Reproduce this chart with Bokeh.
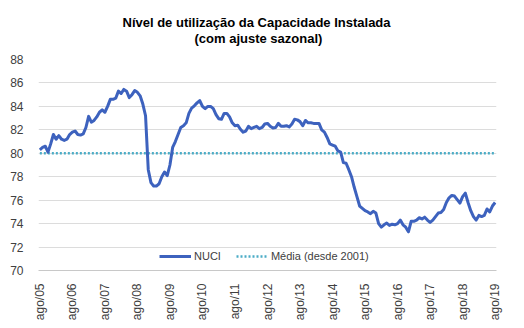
import math
from bokeh.plotting import figure
from bokeh.models import ColumnDataSource, FixedTicker, Title, Legend, LegendItem, Range1d
from bokeh.embed import file_html
from bokeh.resources import INLINE

# Monthly NUCI (seasonally adjusted), ago/2005 .. ago/2019
nuci = [
    80.3, 80.5, 80.6, 80.1, 80.8, 81.6, 81.2, 81.5, 81.2, 81.1, 81.2, 81.6,
    81.8, 81.9, 81.6, 81.55, 81.65, 82.2, 83.15, 82.65, 82.8, 83.1, 83.5, 83.7,
    83.5, 84.0, 84.6, 84.6, 84.7, 85.3, 85.1, 85.45, 85.3, 84.75, 85.0, 85.35,
    85.2, 84.9, 84.2, 83.2, 78.6, 77.5, 77.2, 77.2, 77.4, 78.0, 78.4, 78.1,
    79.0, 80.5, 81.0, 81.6, 82.2, 82.35, 82.6, 83.4, 83.85, 84.05, 84.3, 84.5,
    84.0, 83.8, 84.0, 84.0, 83.8, 83.3, 82.95, 82.9, 83.4, 83.4, 83.1, 82.6,
    82.35, 82.4, 82.05, 81.8, 81.9, 82.3, 82.1, 82.2, 82.3, 82.1, 82.2, 82.5,
    82.55, 82.3, 82.15, 82.2, 82.55, 82.3, 82.3, 82.35, 82.25, 82.5, 82.9, 82.85,
    82.7, 82.35, 82.8, 82.6, 82.6, 82.55, 82.55, 82.55, 82.0, 81.8, 81.35, 80.8,
    80.7, 80.6, 80.2, 80.1, 79.2, 79.15, 78.6, 78.0, 77.1, 76.3, 75.5, 75.3,
    75.1, 75.0, 74.85, 75.05, 74.9, 74.0, 73.7, 73.9, 74.05, 73.85, 73.95, 73.9,
    74.0, 74.3, 73.9, 73.7, 73.3, 74.2, 74.2, 74.3, 74.5, 74.4, 74.55, 74.3,
    74.1, 74.3, 74.6, 74.9, 74.95, 75.2, 75.8, 76.2, 76.4, 76.35, 76.05, 75.75,
    76.3, 76.6, 75.8, 75.1, 74.6, 74.3, 74.7, 74.6, 74.7, 75.25, 75.0, 75.5,
    75.8,
]
media_value = 80.0
tick_labels = ["ago/05", "ago/06", "ago/07", "ago/08", "ago/09", "ago/10", "ago/11",
               "ago/12", "ago/13", "ago/14", "ago/15", "ago/16", "ago/17", "ago/18", "ago/19"]
y_ticks = [70, 72, 74, 76, 78, 80, 82, 84, 86, 88]

months = list(range(len(nuci)))
media = [media_value] * len(nuci)
src = ColumnDataSource(dict(x=months, nuci=nuci, media=media))

p = figure(width=524, height=328, output_backend="svg", toolbar_location=None,
           x_range=Range1d(-0.5, len(nuci) - 0.5), y_range=Range1d(70, 88),
           min_border_left=38, min_border_right=28, min_border_top=59, min_border_bottom=58)
p.outline_line_color = None
p.background_fill_color = "white"
p.border_fill_color = "white"

r_med = p.line("x", "media", source=src, line_color="#4BACC6", line_width=2.5, line_dash="2 2")
r_nuci = p.line("x", "nuci", source=src, line_color="#3D62BE", line_width=3, line_join="round")

# axes
p.xgrid.grid_line_color = None
p.ygrid.grid_line_color = "#DCDCDC"
p.ygrid.grid_line_width = 1

p.yaxis.ticker = FixedTicker(ticks=y_ticks)
p.yaxis.axis_line_color = None
p.yaxis.major_tick_line_color = None
p.yaxis.minor_tick_line_color = None
p.yaxis.major_label_text_font = "Liberation Sans"
p.yaxis.major_label_text_font_size = "12px"
p.yaxis.major_label_text_color = "#404040"
p.yaxis.major_label_standoff = 9

xt = [i * 12 for i in range(len(tick_labels))]
p.xaxis.ticker = FixedTicker(ticks=xt)
p.xaxis.major_label_overrides = {t: lab for t, lab in zip(xt, tick_labels)}
p.xaxis.major_label_orientation = math.pi / 2
p.xaxis.axis_line_color = "#C8C8C8"
p.xaxis.axis_line_width = 1
p.xaxis.major_tick_line_color = None
p.xaxis.minor_tick_line_color = None
p.xaxis.major_label_text_font = "Liberation Sans"
p.xaxis.major_label_text_font_size = "12px"
p.xaxis.major_label_text_color = "#404040"
p.xaxis.major_label_standoff = 7

# titles (two lines)
t2 = Title(text="(com ajuste sazonal)", align="left", text_font="Liberation Sans",
           text_font_size="13px", text_font_style="bold", text_color="#000000",
           standoff=27, offset=156)
t1 = Title(text="Nível de utilização da Capacidade Instalada", align="left",
           text_font="Liberation Sans", text_font_size="13px", text_font_style="bold",
           text_color="#000000", standoff=-28, offset=84)
p.add_layout(t2, "above")
p.add_layout(t1, "above")

legend = Legend(items=[LegendItem(label="NUCI", renderers=[r_nuci]),
                       LegendItem(label="Média (desde 2001)", renderers=[r_med])],
                orientation="horizontal", location=(121, 8),
                border_line_color=None, background_fill_alpha=0,
                padding=0, margin=0, spacing=15, label_standoff=3,
                glyph_width=32, glyph_height=12,
                label_text_font="Liberation Sans", label_text_font_size="11px",
                label_text_color="#404040")
p.add_layout(legend, "center")

open("out.html", "w").write(file_html(p, INLINE))
